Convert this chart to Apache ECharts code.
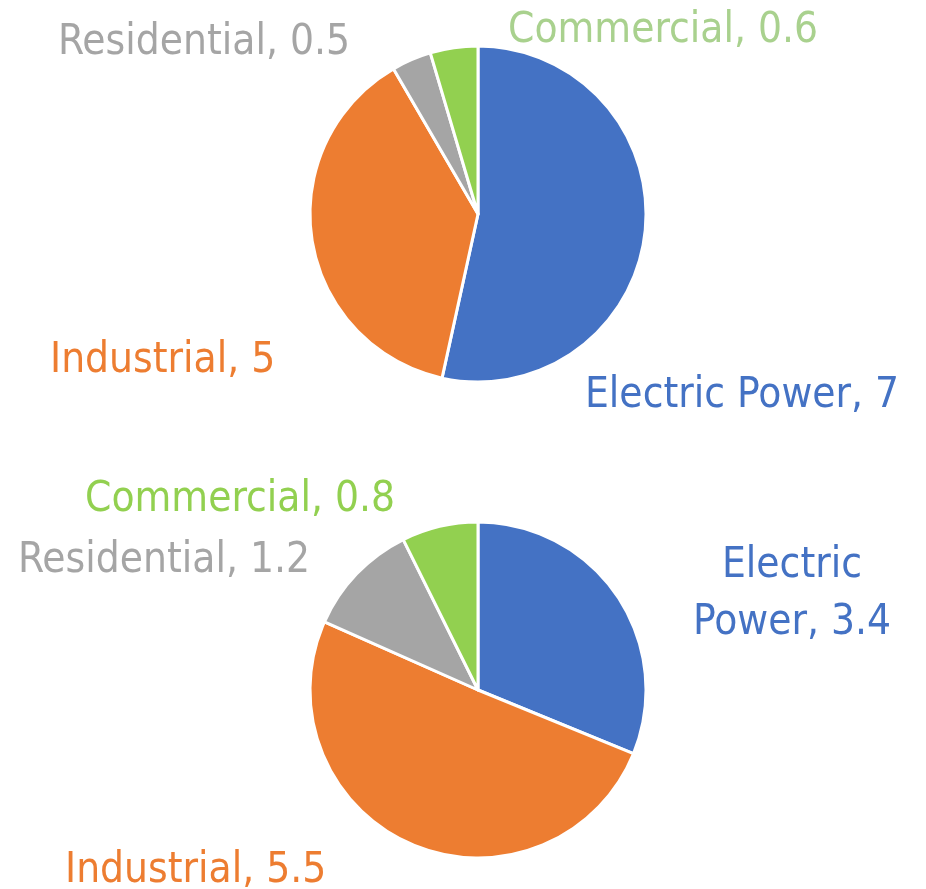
<!DOCTYPE html>
<html>
<head>
<meta charset="utf-8">
<script src="https://cdn.jsdelivr.net/npm/echarts@6/dist/echarts.min.js"></script>
<style>
  html, body { margin: 0; padding: 0; background: #fff; }
  #chart { width: 926px; height: 889px; }
</style>
</head>
<body>
<div id="chart"></div>
<script>
var sectors = ['Electric Power', 'Industrial', 'Residential', 'Commercial'];
var topValues = [7, 5, 0.5, 0.6];
var bottomValues = [3.4, 5.5, 1.2, 0.8];

var sliceColors = ['#4472C4', '#ED7D31', '#A5A5A5', '#92D050'];
var topLabelColors = ['#4472C4', '#ED7D31', '#A5A5A5', '#A9D18E'];
var bottomLabelColors = ['#4472C4', '#ED7D31', '#A5A5A5', '#92D050'];

// label anchor spots [x, y, align]
var topLabelPos = [[585, 396, 'left'], [50, 361, 'left'], [58, 43, 'left'], [508, 31, 'left']];
var bottomLabelPos = [[792, 595, 'center'], [65, 871, 'left'], [18, 561, 'left'], [85, 500, 'left']];

var FONT = '"Liberation Sans Narrow", "DejaVu Sans Condensed", sans-serif';

function makeData(values, labelColors) {
    return sectors.map(function (name, i) {
        return {
            name: name,
            value: values[i],
            itemStyle: { color: sliceColors[i] },
            label: { color: labelColors[i] }
        };
    });
}

function makeSeries(values, labelColors, centerY, pos, wrapFirst) {
    return {
        type: 'pie',
        radius: 168,
        center: [478, centerY],
        startAngle: 90,
        clockwise: true,
        avoidLabelOverlap: false,
        silent: true,
        itemStyle: { borderColor: '#fff', borderWidth: 3 },
        label: {
            show: true,
            position: 'outside',
            fontFamily: FONT,
            fontSize: 42,
            lineHeight: 57,
            formatter: function (p) {
                if (wrapFirst && p.dataIndex === 0) {
                    return 'Electric\nPower, ' + p.value;
                }
                return p.name + ', ' + p.value;
            }
        },
        labelLine: { show: false },
        labelLayout: function (p) {
            var s = pos[p.dataIndex];
            return { x: s[0], y: s[1], align: s[2], verticalAlign: 'middle' };
        },
        data: makeData(values, labelColors)
    };
}

var chart = echarts.init(document.getElementById('chart'));
chart.setOption({
    backgroundColor: '#fff',
    animation: false,
    series: [
        makeSeries(topValues, topLabelColors, 214, topLabelPos, false),
        makeSeries(bottomValues, bottomLabelColors, 690, bottomLabelPos, true)
    ]
});
</script>
</body>
</html>
